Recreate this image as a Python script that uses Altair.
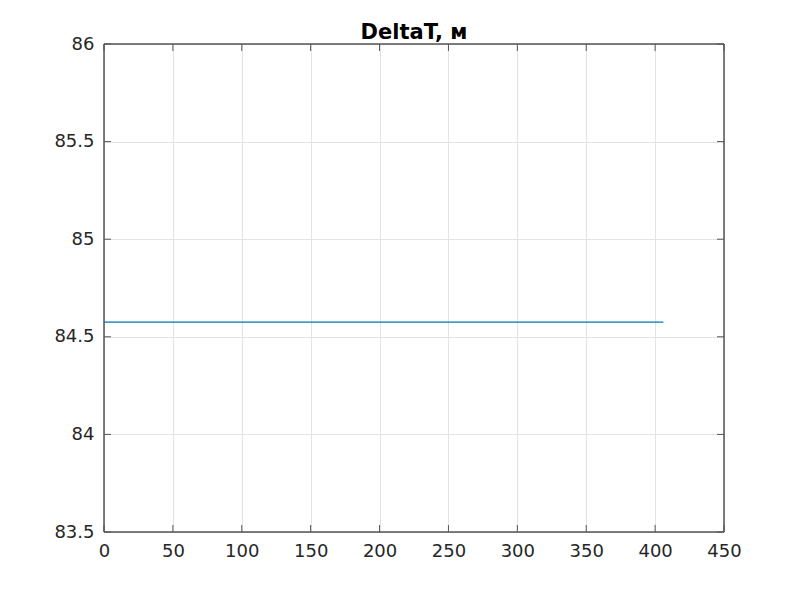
import altair as alt
import pandas as pd

# Data
x_vals = [0, 406]
y_vals = [84.575, 84.575]
x_ticks = [0, 50, 100, 150, 200, 250, 300, 350, 400, 450]
y_ticks = [83.5, 84.0, 84.5, 85.0, 85.5, 86.0]
title_text = "DeltaT, м"

W, H = 620, 488
TL = 7
FONT = "DejaVu Sans"
AX = "#262626"
FR = "#555555"

line_df = pd.DataFrame({"x": x_vals, "y": y_vals})
xt_df = pd.DataFrame({"x": x_ticks})
yt_df = pd.DataFrame({"y": y_ticks})

xs = alt.Scale(domain=[0, 450], nice=False, zero=False)
ys = alt.Scale(domain=[83.5, 86], nice=False, zero=False)

x_axis = alt.Axis(values=x_ticks, tickSize=0, ticks=False, domain=False, grid=True,
                  gridColor="#e3e3e3", gridWidth=1, labelFont=FONT,
                  labelFontSize=18, labelColor=AX, labelPadding=10,
                  labelFlush=False, format="d")
y_axis = alt.Axis(values=y_ticks, tickSize=0, ticks=False, domain=False, grid=True,
                  gridColor="#e3e3e3", gridWidth=1, labelFont=FONT,
                  labelFontSize=18, labelColor=AX, labelPadding=10,
                  labelFlush=False, format=".1~f")

line = alt.Chart(line_df).mark_line(color="#0072BD", strokeWidth=1.3, clip=True).encode(
    x=alt.X("x:Q", scale=xs, title=None, axis=x_axis),
    y=alt.Y("y:Q", scale=ys, title=None, axis=y_axis),
)

bt = alt.Chart(xt_df).mark_rule(color=FR, strokeWidth=1).encode(
    x=alt.X("x:Q", scale=xs, title=None, axis=x_axis), y=alt.value(H), y2=alt.value(H - TL))
tt = alt.Chart(xt_df).mark_rule(color=FR, strokeWidth=1).encode(
    x=alt.X("x:Q", scale=xs, title=None, axis=x_axis), y=alt.value(0), y2=alt.value(TL))
lt = alt.Chart(yt_df).mark_rule(color=FR, strokeWidth=1).encode(
    y=alt.Y("y:Q", scale=ys, title=None, axis=y_axis), x=alt.value(0), x2=alt.value(TL))
rt = alt.Chart(yt_df).mark_rule(color=FR, strokeWidth=1).encode(
    y=alt.Y("y:Q", scale=ys, title=None, axis=y_axis), x=alt.value(W), x2=alt.value(W - TL))

# Box frame (drawn on top of the grid)
f_left = alt.Chart(line_df).mark_rule(color=FR, strokeWidth=1).encode(
    x=alt.value(0), y=alt.value(0), y2=alt.value(H))
f_right = alt.Chart(line_df).mark_rule(color=FR, strokeWidth=1).encode(
    x=alt.value(W), y=alt.value(0), y2=alt.value(H))
f_top = alt.Chart(line_df).mark_rule(color=FR, strokeWidth=1).encode(
    y=alt.value(0), x=alt.value(0), x2=alt.value(W))
f_bot = alt.Chart(line_df).mark_rule(color=FR, strokeWidth=1).encode(
    y=alt.value(H), x=alt.value(0), x2=alt.value(W))

chart = alt.layer(line, bt, tt, lt, rt, f_left, f_right, f_top, f_bot).properties(
    width=W, height=H,
    title=alt.TitleParams(title_text, font=FONT, fontSize=21, fontWeight="bold",
                          color="#000000", offset=-8, anchor="middle", frame="group"),
    autosize=alt.AutoSizeParams(type="none"),
    padding={"left": 96, "top": 36, "right": 60, "bottom": 50},
    view=alt.ViewBackground(stroke=None),
).configure(background="white")

chart.save("out.html", embed_options={"renderer": "svg", "actions": False})
